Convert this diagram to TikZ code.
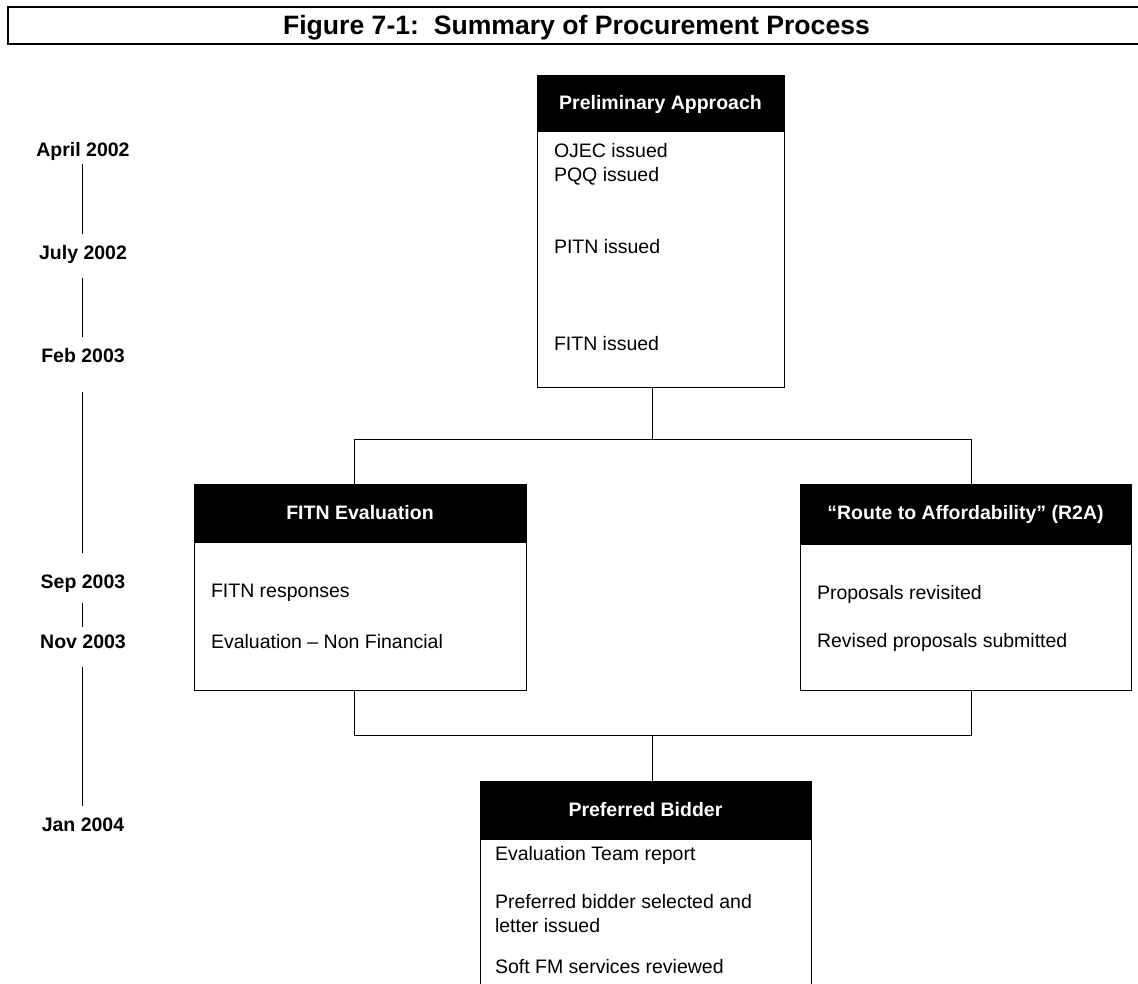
\documentclass[tikz,border=0pt]{standalone}
\usepackage{fontspec}
\setmainfont{Liberation Sans}
\begin{document}
\begin{tikzpicture}[x=1pt,y=-1pt,
  every node/.style={inner sep=0pt,outer sep=0pt},
  boxframe/.style={draw=black,line width=1pt,anchor=north west,fill=white},
  headbar/.style={fill=black,draw=black,line width=1pt,anchor=north west,text=white,
    font=\fontsize{19.5}{22}\selectfont\bfseries,align=center},
  item/.style={anchor=west,font=\fontsize{19.5}{24}\selectfont,align=left},
  datelbl/.style={font=\fontsize{19.5}{22}\selectfont\bfseries},
  link/.style={draw=black,line width=1pt}]
\useasboundingbox[fill=white] (0,0) rectangle (1138,984);

% title
\node[draw=black,line width=2pt,anchor=north west,minimum width=1150pt,minimum height=37pt] (titlebox) at (8,7) {};
\node[anchor=base,font=\fontsize{26.6}{30}\selectfont\bfseries] (title) at (576.5,35) {Figure 7-1:\ \ Summary of Procurement Process};

% connector junctions
\coordinate (ja) at (652,439);
\coordinate (jl) at (354,439);
\coordinate (jr) at (971,439);
\coordinate (ka) at (652,735);
\coordinate (kl) at (354,735);
\coordinate (kr) at (971,735);

% Preliminary Approach
\node[boxframe,minimum width=247pt,minimum height=311pt] (P) at (537,76) {};
\node[headbar,minimum width=247pt,minimum height=56pt] (Ph) at (537,76) {Preliminary Approach};
\node[item] (P1) at (554,151) {OJEC issued};
\node[item] (P2) at (554,176) {PQQ issued};
\node[item] (P3) at (554,247) {PITN issued};
\node[item] (P4) at (554,344) {FITN issued};

% FITN Evaluation
\node[boxframe,minimum width=332pt,minimum height=206pt] (F) at (194,484) {};
\node[headbar,minimum width=332pt,minimum height=58pt] (Fh) at (194,484) {FITN Evaluation};
\node[item] (F1) at (211,593) {FITN responses};
\node[item] (F2) at (211,642) {Evaluation – Non Financial};

% Route to Affordability
\node[boxframe,minimum width=331pt,minimum height=206pt] (R) at (800,484) {};
\node[headbar,minimum width=331pt,minimum height=60pt] (Rh) at (800,484) {“Route to Affordability” (R2A)};
\node[item] (R1) at (817,594) {Proposals revisited};
\node[item] (R2) at (817,642) {Revised proposals submitted};

% Preferred Bidder
\node[boxframe,minimum width=331pt,minimum height=230pt] (B) at (480,781) {};
\node[headbar,minimum width=331pt,minimum height=58pt] (Bh) at (480,781) {Preferred Bidder};
\node[item] (B1) at (495,855) {Evaluation Team report};
\node[item] (B2) at (495,914) {Preferred bidder selected and\\letter issued};
\node[item] (B3) at (495,967) {Soft FM services reviewed};

% tree connectors
\draw[link] (P.south -| ja) -- (ja);
\draw[link] (jl |- F.north) -- (jl) -- (jr) -- (jr |- R.north);
\draw[link] (F.south -| kl) -- (kl) -- (kr) -- (R.south -| kr);
\draw[link] (ka) -- (ka |- B.north);

% timeline
\node[datelbl] (t1) at (83,151) {April 2002};
\node[datelbl] (t2) at (83,254) {July 2002};
\node[datelbl] (t3) at (83,356) {Feb 2003};
\node[datelbl] (t4) at (83,584) {Sep 2003};
\node[datelbl] (t5) at (83,642) {Nov 2003};
\node[datelbl] (t6) at (83,825) {Jan 2004};
\draw[link] ([xshift=-1pt,yshift=-13pt]t1.center) -- ([xshift=-1pt,yshift=20pt]t2.center);
\draw[link] ([xshift=-1pt,yshift=-24pt]t2.center) -- ([xshift=-1pt,yshift=19pt]t3.center);
\draw[link] ([xshift=-1pt,yshift=-36pt]t3.center) -- ([xshift=-1pt,yshift=31pt]t4.center);
\draw[link] ([xshift=-1pt,yshift=-19pt]t4.center) -- ([xshift=-1pt,yshift=15pt]t5.center);
\draw[link] ([xshift=-1pt,yshift=-25pt]t5.center) -- ([xshift=-1pt,yshift=19pt]t6.center);
\end{tikzpicture}
\end{document}
